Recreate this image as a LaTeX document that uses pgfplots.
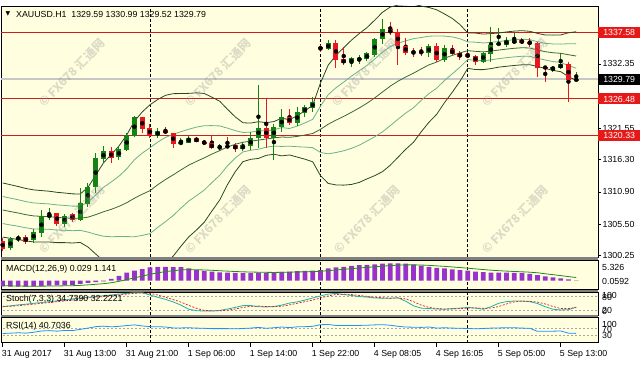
\documentclass[border=0pt]{standalone}
\usepackage{fontspec}
\setmainfont{Liberation Sans}
\newfontfamily\dejavu{DejaVu Sans}
\newfontfamily\cjk{Noto Sans CJK SC}
\usepackage{pgfplots}
\usepackage{pgfplotstable}
\pgfplotsset{compat=1.18}

\definecolor{bg}{RGB}{255,255,224}
\definecolor{bull}{RGB}{20,130,20}
\definecolor{bear}{RGB}{232,22,30}
\definecolor{bbdark}{RGB}{40,72,40}
\definecolor{bblight}{RGB}{105,178,140}
\definecolor{bbmid}{RGB}{55,105,55}
\definecolor{lvlred}{RGB}{205,30,30}
\definecolor{boxred}{RGB}{230,25,25}
\definecolor{macdbar}{RGB}{153,50,204}
\definecolor{macdsig}{RGB}{30,140,30}
\definecolor{stochk}{RGB}{32,178,170}
\definecolor{rsiline}{RGB}{30,144,255}
\definecolor{sep}{RGB}{128,128,128}
\newcommand{\lf}{\fontsize{8.8}{10}\selectfont}

\pgfplotstableread{
i o h l c
1 1301.47 1303.37 1301.14 1302.98
2 1302.82 1303.66 1302.53 1303.32
4 1302.82 1304.61 1302.36 1304.11
5 1303.94 1307.85 1303.37 1306.84
6 1306.62 1308.13 1306.17 1307.13
8 1305.50 1307.13 1304.95 1306.84
10 1306.17 1311.49 1306.00 1308.97
11 1308.85 1312.43 1308.40 1311.75
12 1311.75 1317.36 1310.65 1316.52
13 1316.35 1318.58 1315.68 1317.74
15 1316.69 1318.58 1316.23 1318.03
16 1317.91 1320.71 1317.79 1320.43
17 1320.26 1323.61 1320.14 1323.40
20 1320.26 1321.55 1319.97 1321.10
23 1318.92 1319.87 1318.75 1319.30
24 1319.14 1320.26 1319.03 1319.97
28 1318.36 1318.92 1317.79 1318.47
31 1318.03 1319.30 1317.79 1318.75
32 1318.58 1320.98 1317.91 1319.87
33 1319.97 1328.81 1318.19 1321.65
35 1319.87 1322.27 1316.23 1321.72
36 1321.72 1324.74 1320.98 1323.50
38 1322.39 1325.12 1321.93 1324.33
39 1324.17 1325.51 1323.44 1325.07
40 1324.90 1326.85 1324.28 1326.01
42 1334.80 1336.36 1334.68 1335.90
45 1332.45 1333.51 1331.88 1333.28
46 1333.00 1333.84 1332.33 1333.29
47 1333.12 1334.35 1332.83 1334.13
48 1333.84 1336.69 1333.51 1336.47
49 1336.47 1339.88 1335.69 1338.15
55 1334.13 1335.74 1333.56 1335.35
57 1333.00 1335.52 1332.67 1334.96
62 1332.72 1334.40 1332.45 1334.13
63 1334.01 1338.59 1332.72 1335.52
64 1335.52 1338.32 1335.45 1335.90
65 1335.52 1336.91 1335.23 1336.36
66 1335.80 1337.48 1335.64 1336.36
71 1331.44 1332.00 1331.04 1331.78
72 1331.61 1334.13 1331.49 1332.33
74 1329.59 1330.99 1329.52 1329.79
}\bulltab

\pgfplotstableread{
i o h l c
0 1302.65 1303.15 1300.97 1301.30
3 1303.27 1303.66 1302.15 1302.53
7 1307.30 1307.40 1305.16 1305.50
9 1307.13 1307.40 1305.89 1306.17
14 1317.74 1318.36 1315.68 1316.52
18 1323.40 1323.49 1320.81 1321.38
19 1321.65 1322.27 1319.92 1320.26
21 1321.27 1321.72 1320.54 1320.71
22 1320.71 1320.81 1318.19 1318.92
25 1319.87 1320.14 1319.20 1319.30
26 1319.30 1319.59 1318.75 1319.03
27 1319.03 1320.26 1318.03 1318.19
29 1318.64 1320.04 1318.19 1318.36
30 1318.75 1319.14 1317.62 1318.03
34 1321.65 1326.42 1318.19 1319.97
37 1323.50 1324.74 1322.10 1322.39
41 1335.24 1335.52 1334.34 1334.80
43 1335.90 1336.36 1331.66 1333.00
44 1333.12 1335.18 1332.17 1332.45
50 1338.15 1339.43 1337.20 1337.48
51 1337.75 1338.20 1332.17 1335.35
52 1335.35 1336.64 1333.84 1334.23
53 1334.40 1334.96 1333.56 1334.23
54 1334.40 1335.23 1333.67 1334.23
56 1335.35 1335.85 1332.67 1333.00
58 1334.80 1335.52 1333.84 1334.01
59 1334.23 1334.56 1333.00 1333.45
60 1334.01 1334.40 1333.28 1333.45
61 1333.67 1333.84 1332.17 1332.72
67 1336.36 1336.64 1335.64 1335.80
68 1336.08 1336.64 1335.23 1335.69
69 1335.80 1336.07 1330.20 1331.61
70 1331.89 1332.00 1329.37 1331.61
73 1332.33 1332.72 1326.04 1329.60
}\beartab

\pgfplotstableread{
i u2 u1 m l1 l2
0 1312.39 1310.12 1307.85 1305.58 1303.31
1 1312.09 1309.84 1307.59 1305.34 1303.09
2 1311.79 1309.57 1307.35 1305.13 1302.91
3 1311.46 1309.26 1307.06 1304.86 1302.66
4 1311.22 1309.04 1306.86 1304.68 1302.50
5 1311.11 1308.95 1306.79 1304.63 1302.47
6 1311.00 1308.87 1306.74 1304.61 1302.48
7 1310.82 1308.71 1306.60 1304.49 1302.38
8 1310.70 1308.62 1306.54 1304.46 1302.38
9 1310.56 1308.50 1306.44 1304.38 1302.32
10 1310.53 1308.50 1306.47 1304.44 1302.41
11 1311.65 1309.15 1306.65 1304.15 1301.65
12 1313.67 1310.37 1307.07 1303.77 1300.47
13 1315.75 1311.65 1307.55 1303.45 1299.35
14 1317.14 1312.55 1307.96 1303.37 1298.78
15 1318.58 1313.52 1308.46 1303.40 1298.34
16 1320.43 1314.75 1309.07 1303.39 1297.71
17 1322.75 1316.29 1309.83 1303.37 1296.91
18 1324.29 1317.39 1310.49 1303.59 1296.69
19 1325.49 1318.29 1311.09 1303.89 1296.69
20 1326.38 1319.23 1312.08 1304.93 1297.78
21 1327.08 1320.02 1312.96 1305.90 1298.84
22 1327.36 1320.55 1313.74 1306.93 1300.12
23 1327.38 1320.98 1314.58 1308.18 1301.78
24 1327.41 1321.39 1315.37 1309.35 1303.33
25 1327.50 1321.75 1316.00 1310.25 1304.50
26 1327.39 1321.99 1316.59 1311.19 1305.79
27 1326.77 1322.00 1317.23 1312.46 1307.69
28 1326.09 1321.95 1317.81 1313.67 1309.53
29 1324.74 1321.58 1318.42 1315.26 1312.10
30 1323.47 1321.17 1318.87 1316.57 1314.27
31 1322.48 1320.85 1319.22 1317.59 1315.96
32 1322.43 1320.91 1319.39 1317.87 1316.35
33 1322.66 1321.12 1319.58 1318.04 1316.50
34 1322.50 1321.13 1319.76 1318.39 1317.02
35 1322.68 1321.31 1319.94 1318.57 1317.20
36 1323.25 1321.67 1320.09 1318.51 1316.93
37 1323.00 1321.52 1320.04 1318.56 1317.08
38 1323.65 1321.92 1320.19 1318.46 1316.73
39 1324.49 1322.46 1320.43 1318.40 1316.37
40 1325.42 1323.05 1320.68 1318.31 1315.94
41 1329.14 1325.26 1321.38 1317.50 1313.62
42 1332.15 1327.19 1322.23 1317.27 1312.31
43 1333.78 1328.35 1322.92 1317.49 1312.06
44 1335.06 1329.30 1323.54 1317.78 1312.02
45 1336.34 1330.29 1324.24 1318.19 1312.14
46 1337.44 1331.20 1324.96 1318.72 1312.48
47 1338.43 1332.09 1325.75 1319.41 1313.07
48 1339.69 1333.17 1326.65 1320.13 1313.61
49 1341.00 1334.32 1327.64 1320.96 1314.28
50 1341.88 1335.25 1328.62 1321.99 1315.36
51 1342.21 1335.83 1329.45 1323.07 1316.69
52 1342.28 1336.22 1330.16 1324.10 1318.04
53 1342.37 1336.58 1330.79 1325.00 1319.21
54 1342.05 1336.78 1331.51 1326.24 1320.97
55 1341.81 1337.00 1332.19 1327.38 1322.57
56 1341.42 1337.04 1332.66 1328.28 1323.90
57 1340.73 1337.01 1333.29 1329.57 1325.85
58 1339.98 1336.88 1333.78 1330.68 1327.58
59 1338.95 1336.57 1334.19 1331.81 1329.43
60 1337.53 1336.05 1334.57 1333.09 1331.61
61 1337.52 1335.99 1334.46 1332.93 1331.40
62 1337.35 1335.86 1334.37 1332.88 1331.39
63 1337.44 1335.97 1334.50 1333.03 1331.56
64 1337.53 1336.10 1334.67 1333.24 1331.81
65 1337.71 1336.27 1334.83 1333.39 1331.95
66 1337.85 1336.41 1334.97 1333.53 1332.09
67 1337.92 1336.49 1335.06 1333.63 1332.20
68 1337.82 1336.42 1335.02 1333.62 1332.22
69 1337.47 1336.08 1334.69 1333.30 1331.91
70 1337.20 1335.80 1334.40 1333.00 1331.60
71 1337.18 1335.70 1334.22 1332.74 1331.26
72 1337.21 1335.67 1334.13 1332.59 1331.05
73 1337.57 1335.73 1333.89 1332.05 1330.21
74 1337.75 1335.71 1333.67 1331.63 1329.59
}\bbtab

\pgfplotstableread{
i h s
0 -2.3 -1.98
1 -2.4 -2.06
2 -2.4 -2.13
3 -2.4 -2.18
4 -2.3 -2.20
5 -2.1 -2.18
6 -2.0 -2.14
7 -1.9 -2.10
8 -1.8 -2.05
9 -1.7 -2.00
10 -1.3 -1.88
11 -0.9 -1.68
12 -0.6 -1.46
13 -0.3 -1.23
14 0.6 -0.86
15 1.8 -0.33
16 3.0 0.34
17 3.8 1.03
18 4.4 1.70
19 5.1 2.38
20 5.3 2.96
21 5.3 3.43
22 5.2 3.79
23 5.2 4.07
24 4.7 4.20
25 4.05 4.17
26 3.7 4.07
27 3.4 3.94
28 3.1 3.77
29 3.0 3.62
30 2.9 3.47
31 2.9 3.36
32 2.9 3.27
33 3.0 3.21
34 2.9 3.15
35 3.0 3.12
36 3.3 3.16
37 3.4 3.21
38 3.6 3.29
39 3.7 3.37
40 3.8 3.45
41 4.05 3.57
42 4.7 3.80
43 5.1 4.06
44 5.3 4.31
45 5.6 4.57
46 5.9 4.83
47 6.0 5.06
48 6.2 5.29
49 6.5 5.53
50 6.6 5.75
51 6.6 5.92
52 6.5 6.03
53 6.1 6.05
54 5.7 5.98
55 5.3 5.84
56 4.9 5.65
57 4.7 5.46
58 4.3 5.23
59 4.05 5.00
60 3.8 4.76
61 3.4 4.48
62 3.2 4.23
63 3.0 3.98
64 3.0 3.79
65 3.0 3.63
66 2.9 3.48
67 2.9 3.37
68 2.6 3.21
69 2.1 2.99
70 1.6 2.60
71 1.2 2.25
72 0.85 1.90
73 0.45 1.50
74 0.029 1.141
}\macdtab

\pgfplotstableread{
i k d
0 36 38
1 40 38
2 44 40
3 47 44
4 51 47
5 54 51
6 58 54
7 61 58
8 65 61
9 70 65
10 74 70
11 77 74
12 80 77
13 84 80
14 87 84
15 91 87
16 94 91
17 97 94
18 97 96
19 87 94
20 77 87
21 68 77
22 57 67
23 43 56
24 25 42
25 19 29
26 17 20
27 17 18
28 20 18
29 26 21
30 33 26
31 41 33
32 41 38
33 36 39
34 35 37
35 37 36
36 43 38
37 52 44
38 57 51
39 65 58
40 74 65
41 83 74
42 91 83
43 94 89
44 89 91
45 85 89
46 80 85
47 78 81
48 74 77
49 73 75
50 73 73
51 75 74
52 60 70
53 40 58
54 30 43
55 28 33
56 26 28
57 25 26
58 28 26
59 30 28
60 33 30
61 30 31
62 25 29
63 36 30
64 51 37
65 58 48
66 61 57
67 61 60
68 58 60
69 50 56
70 36 48
71 25 37
72 22 28
73 23 28
74 34.739 32.222
}\stochtab

\pgfplotstableread{
i r
0 40
1 42
2 44
3 42
4 47
5 54
6 56
7 53
8 57
9 56
10 63
11 70
12 78
13 81
14 77
15 80
16 84
17 88
18 82
19 78
20 78
21 76
22 71
23 71
24 72
25 70
26 69
27 67
28 67
29 67
30 66
31 68
32 70
33 74
34 69
35 72
36 76
37 73
38 77
39 78
40 80
41 89
42 90
43 85
44 84
45 85
46 85
47 86
48 88
49 89
50 86
51 80
52 76
53 75
54 74
55 76
56 70
57 72
58 70
59 69
60 68
61 66
62 68
63 70
64 71
65 72
66 72
67 70
68 69
69 52
70 52
71 53
72 54
73 42
74 40.7
}\rsitab

\pgfplotsset{
  panel/.style={
    scale only axis, width=597pt,
    xmin=-0.219, xmax=76.81,
    anchor=south west,
    axis background/.style={fill=bg},
    axis line style={black, line width=0.8pt},
    xtick=\empty, ytick=\empty,
    clip mode=individual,
    extra x ticks={19,41,60},
    extra x tick labels={},
    extra x tick style={xmajorgrids=true, major tick length=0pt,
      major grid style={black, line width=0.7pt, dash pattern=on 3pt off 2pt}},
  },
  wick/.style={only marks, mark=none, forget plot,
    error bars/.cd, y dir=both, y explicit, error mark=none,
    error bar style={line width=1pt, color=#1}},
  body/.style={only marks, mark=none, forget plot,
    error bars/.cd, y dir=both, y explicit, error mark=none,
    error bar style={line width=5pt, color=#1}},
}

\tikzset{boxlab/.style={anchor=west, text=white, font=\lf, inner xsep=2pt,
  inner ysep=2.3pt, text height=6.3pt, text depth=0pt, minimum width=42pt}}

\begin{document}
\begin{tikzpicture}[x=1pt,y=1pt]
\useasboundingbox (0,0) rectangle (640,368);
\fill[white] (0,0) rectangle (640,368);

% ---------- main price panel ----------
\begin{axis}[panel, at={(1pt,111pt)}, height=251pt,
  ymin=1299.97, ymax=1342.06,
  ytick={1300.25,1305.50,1310.90,1316.30,1321.55,1332.35},
  yticklabels={1300.25,1305.50,1310.90,1316.30,1321.55,1332.35},
  ytick pos=right, yticklabel pos=right,
  tick align=outside, major tick length=3pt,
  yticklabel style={font=\lf, inner xsep=1.5pt},
  tick style={black, line width=0.6pt},
]
\addplot[black!22, line width=1.4pt, forget plot] coordinates {(-1,1329.79) (78,1329.79)};
\addplot[lvlred, line width=0.9pt, forget plot] coordinates {(-1,1337.58) (78,1337.58)};
\addplot[lvlred, line width=0.9pt, forget plot] coordinates {(-1,1326.48) (78,1326.48)};
\addplot[lvlred, line width=0.9pt, forget plot] coordinates {(-1,1320.33) (78,1320.33)};

\addplot[bbdark, line width=0.8pt] table[x=i, y=u2] \bbtab;
\addplot[bblight, line width=0.8pt] table[x=i, y=u1] \bbtab;
\addplot[bbmid, line width=0.8pt] table[x=i, y=m] \bbtab;
\addplot[bblight, line width=0.8pt] table[x=i, y=l1] \bbtab;
\addplot[bbdark, line width=0.8pt] table[x=i, y=l2] \bbtab;

\addplot[wick=bull] table[x=i, y expr={(\thisrow{h}+\thisrow{l})/2}, y error expr={(\thisrow{h}-\thisrow{l})/2}] \bulltab;
\addplot[wick=bear] table[x=i, y expr={(\thisrow{h}+\thisrow{l})/2}, y error expr={(\thisrow{h}-\thisrow{l})/2}] \beartab;
\addplot[body=bull] table[x=i, y expr={(\thisrow{o}+\thisrow{c})/2}, y error expr={max(abs(\thisrow{c}-\thisrow{o})/2,0.08)}] \bulltab;
\addplot[body=bear] table[x=i, y expr={(\thisrow{o}+\thisrow{c})/2}, y error expr={max(abs(\thisrow{c}-\thisrow{o})/2,0.08)}] \beartab;

\node[boxlab, fill=boxred] at (axis cs:76.81,1337.58) {1337.58};
\node[boxlab, fill=black] at (axis cs:76.81,1329.79) {1329.79};
\node[boxlab, fill=boxred] at (axis cs:76.81,1326.48) {1326.48};
\node[boxlab, fill=boxred] at (axis cs:76.81,1320.33) {1320.33};
\end{axis}

% ---------- MACD ----------
\begin{axis}[panel, at={(1pt,78.5pt)}, height=29.5pt, ymin=-3.47, ymax=7.91]
\addplot[ybar, bar width=4.6pt, fill=macdbar, draw=none] table[x=i, y=h] \macdtab;
\addplot[macdsig, line width=0.8pt] table[x=i, y=s] \macdtab;
\end{axis}

% ---------- Stochastic ----------
\begin{axis}[panel, at={(1pt,53pt)}, height=23pt, ymin=0, ymax=100]
\addplot[black!35, line width=0.5pt, dash pattern=on 2pt off 2pt] coordinates {(-1,80) (78,80)};
\addplot[black!35, line width=0.5pt, dash pattern=on 2pt off 2pt] coordinates {(-1,20) (78,20)};
\addplot[stochk, line width=0.8pt] table[x=i, y=k] \stochtab;
\addplot[bear, line width=0.7pt, dash pattern=on 2pt off 1.5pt] table[x=i, y=d] \stochtab;
\end{axis}

% ---------- RSI ----------
\begin{axis}[panel, at={(1pt,25.5pt)}, height=25.5pt, ymin=-10, ymax=131.7,
  xtick={0,8,16,24,32,40,48,56,64,72},
  xticklabels={31 Aug 2017,31 Aug 13:00,31 Aug 21:00,1 Sep 06:00,1 Sep 14:00,1 Sep 22:00,4 Sep 08:05,4 Sep 16:05,5 Sep 05:00,5 Sep 13:00},
  xtick pos=bottom, tick align=outside, major tick length=4pt,
  tick style={black, line width=0.6pt},
  xticklabel style={anchor=north west, font=\lf, inner xsep=0pt, xshift=-1pt},
]
\addplot[black!35, line width=0.5pt, dash pattern=on 2pt off 2pt] coordinates {(-1,70) (78,70)};
\addplot[black!35, line width=0.5pt, dash pattern=on 2pt off 2pt] coordinates {(-1,30) (78,30)};
\addplot[rsiline, line width=0.8pt] table[x=i, y=r] \rsitab;
\end{axis}

% ---------- separators ----------
\fill[sep] (1,108) rectangle (598,111);
\fill[sep] (1,76) rectangle (598,78.5);
\fill[sep] (1,51) rectangle (598,53);

% ---------- labels ----------
\node[anchor=west, inner sep=0pt, font=\dejavu\fontsize{6}{6}\selectfont] at (5.5,354) {▼};
\node[anchor=west, inner sep=0pt, font=\lf] at (16,354) {XAUUSD.H1\ \ 1329.59 1330.99 1329.52 1329.79};
\node[anchor=west, inner sep=0pt, font=\lf] at (6,98.7) {MACD(12,26,9) 0.029 1.141};
\node[anchor=west, inner sep=0pt, font=\lf] at (6,68.3) {Stoch(7,3,3) 34.7390 32.2221};
\node[anchor=west, inner sep=0pt, font=\lf] at (6,41.3) {RSI(14) 40.7036};

\node[anchor=west, inner sep=0pt, font=\lf] at (602,101) {5.326};
\node[anchor=west, inner sep=0pt, font=\lf] at (602,86.5) {0.0592};
\node[anchor=west, inner sep=0pt, font=\lf] at (602,72.5) {100};
\node[anchor=west, inner sep=0pt, font=\lf] at (602,71) {80};
\node[anchor=west, inner sep=0pt, font=\lf] at (602,57.5) {20};
\node[anchor=west, inner sep=0pt, font=\lf] at (602,56.5) {0};
\node[anchor=west, inner sep=0pt, font=\lf] at (602,44) {100};
\node[anchor=west, inner sep=0pt, font=\lf] at (602,38.5) {70};
\node[anchor=west, inner sep=0pt, font=\lf] at (602,32.5) {30};

% ---------- watermarks ----------
\foreach \wx/\wy in {72/73,218/73,365/73,515/73,72/220,218/220,367/220,515/220}
  \node[rotate=46, text=black!45, opacity=0.3, font=\cjk\bfseries\fontsize{12}{12}\selectfont] at (\wx,{368-\wy}) {© FX678 汇通网};
\end{tikzpicture}
\end{document}
